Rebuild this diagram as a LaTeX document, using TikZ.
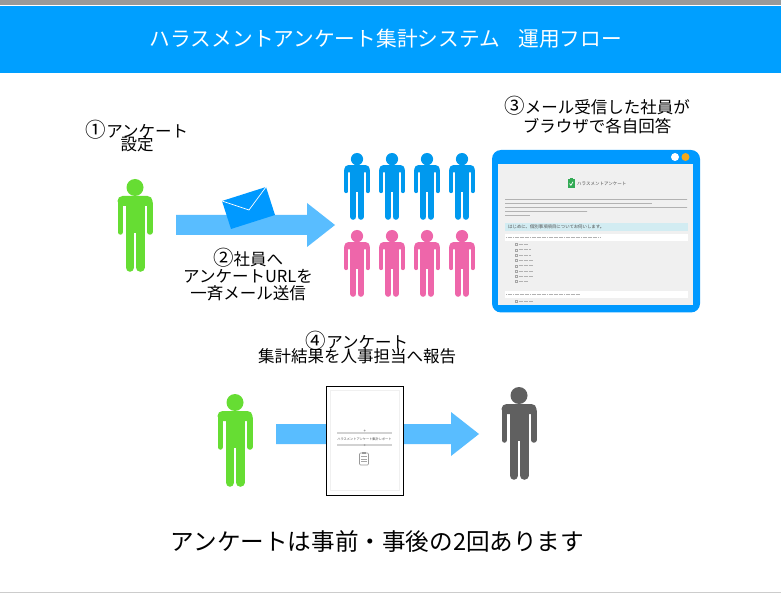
\documentclass[tikz,border=0pt]{standalone}
\usepackage{fontspec}
\setmainfont{Noto Sans CJK JP}
\definecolor{bandblue}{HTML}{009FFF}
\definecolor{winblue}{HTML}{0099FF}
\definecolor{arrowblue}{HTML}{59BDFF}
\definecolor{mangreen}{HTML}{66DD33}
\definecolor{manblue}{HTML}{0099EE}
\definecolor{manpink}{HTML}{EE66AA}
\definecolor{mangray}{HTML}{606060}
\definecolor{winorange}{HTML}{F5A81C}
\definecolor{pagegray}{HTML}{F0F0F0}
\definecolor{rowcyan}{HTML}{D2ECF2}
\definecolor{checkgreen}{HTML}{33AA55}
\newcommand{\bignum}[1]{{\fontsize{20.5}{12}\selectfont #1}}
\newcommand{\tightlines}{\lineskiplimit=-100pt\relax}
\tikzset{
  stepnote/.style={align=center, inner sep=0pt, font={\tightlines\fontsize{16.5}{#1}\selectfont}},
  smalltext/.style={inner sep=0pt, text=black!70, font=\fontsize{#1}{#1}\selectfont},
  textbar/.style={gray!60, line width=.9pt, dash pattern=on 1.6pt off .4pt},
  shotbar/.style={gray!60, line width=.7pt, dash pattern=on 1.3pt off .4pt}
}
% person: x, top y, scale, colour
\newcommand{\person}[4]{
  \begin{scope}[shift={(#1,#2)}, scale=#3]
    \fill[#4] (0,8.5) circle (8.5);
    \fill[#4, rounded corners=#3*5pt] (-17.5,27) -- (-17.5,17) -- (17.5,17) -- (17.5,27) -- cycle;
    \fill[#4] (-9.5,20) rectangle (9.5,54);
    \draw[#4, line width=#3*5.5pt, line cap=round] (-14.75,24) -- (-14.75,53);
    \draw[#4, line width=#3*8.6pt, line cap=round] (-5.2,45) -- (-5.2,88.5);
    \draw[#4, line width=#3*8.6pt, line cap=round] (5.2,45) -- (5.2,88.5);
    \draw[#4, line width=#3*5.5pt, line cap=round] (14.75,24) -- (14.75,53);
    \fill[white] (-.9,56) rectangle (.9,94);
  \end{scope}
}
% block arrow: left x, centre y, neck x, tip x
\newcommand{\blockarrow}[4]{
  \fill[arrowblue] (#1,#2-10) -- (#3,#2-10) -- (#3,#2-22) -- (#4,#2)
    -- (#3,#2+22) -- (#3,#2+10) -- (#1,#2+10) -- cycle;
}
\begin{document}
\begin{tikzpicture}[x=1pt, y=-1pt]
  \useasboundingbox (0,0) rectangle (781,593);
  \fill[white] (0,0) rectangle (781,593);

  % header band
  \fill[gray!80] (0,0) rectangle (781,5.5);
  \fill[bandblue] (0,6) rectangle (781,73);
  \fill[gray!40] (0,591.5) rectangle (781,593);
  \node[text=white, inner sep=0pt, font=\fontsize{20.7}{24}\selectfont] (title) at (386,38.5)
    {ハラスメントアンケート集計システム\hspace{.9em}運用フロー};

  % step 1 and 2
  \node[stepnote=12.5] (stepone) at (137,136) {\bignum{①}アンケート\\設定};
  \person{135}{179}{1}{mangreen}
  \blockarrow{176}{225}{307}{335}
  \coordinate (envA) at (222,201);
  \coordinate (envB) at (266,187);
  \coordinate (envC) at (275,215);
  \coordinate (envD) at (231,229);
  \coordinate (envE) at (249,210);
  \fill[winblue] (envA) -- (envB) -- (envC) -- (envD) -- cycle;
  \draw[white, line width=.7pt] (envA) -- (envE) -- (envB);
  \node[stepnote=17] (steptwo) at (248,275) {\bignum{②}社員へ\\アンケートURLを\\一斉メール送信};

  % staff
  \foreach \px in {357,392,427,462} {
    \person{\px}{153}{.72}{manblue}
    \person{\px}{230}{.72}{manpink}
  }

  % step 3, browser window
  \node[stepnote=19] (stepthree) at (597,115) {\bignum{③}メール受信した社員が\\ブラウザで各自回答};
  \fill[winblue, rounded corners=9pt] (492,150) rectangle (700,312.5);
  \fill[pagegray] (498,164) rectangle (693,305);
  \fill[white] (675,157) circle (4);
  \fill[winorange] (685.5,157) circle (4);
  \fill[checkgreen] (568,179) rectangle (574.5,188.5);
  \fill[checkgreen] (569.7,177.8) rectangle (572.8,180);
  \draw[white, line width=.7pt] (569.5,183.5) -- (570.9,185.3) -- (573,181.8);
  \node[smalltext=4.5, anchor=west] (shottitle) at (577,183.5) {ハラスメントアンケート};
  \draw[textbar] (505,199) -- (687,199);
  \draw[textbar] (505,203) -- (652,203);
  \draw[textbar] (505,207) -- (687,207);
  \draw[textbar] (505,211) -- (587,211);
  \draw[textbar] (505,215) -- (530,215);
  \fill[rowcyan] (505,223) rectangle (688,231);
  \node[smalltext=4.4, anchor=west] (shotintro) at (508,226.5) {はじめに、個別事項項目についてお伺いします。};
  \fill[white] (505,234) rectangle (688,241);
  \draw[shotbar] (506,237.5) -- (600,237.5);
  \foreach \oy/\ow in {244.5/10,249.8/12,255.1/12,260.4/15,265.7/15,271/15,276.3/15,281.6/10} {
    \draw[gray!70, line width=.3pt] (515,\oy-1) rectangle (517,\oy+1);
    \draw[shotbar] (518.5,\oy) -- ++(\ow,0);
  }
  \fill[white] (505,291) rectangle (688,298);
  \draw[shotbar] (506,294.5) -- (580,294.5);
  \draw[gray!70, line width=.3pt] (515,300.5) rectangle (517,302.5);
  \draw[shotbar] (518.5,301.5) -- ++(14,0);

  % step 4
  \node[stepnote=14] (stepfour) at (357,347.5) {\bignum{④}アンケート\\集計結果を人事担当へ報告};
  \person{235}{394}{1}{mangreen}
  \blockarrow{276}{434}{451}{479}
  \person{519}{387}{1}{mangray}
  \draw[black, fill=white, line width=.8pt] (326,386) rectangle (403,495);
  \draw[gray!12, line width=.8pt] (330,390.5) rectangle (399,490.5);
  \fill[gray!35] (337,432) rectangle (392,434);
  \fill[gray!35] (337,444) rectangle (392,446);
  \fill[gray!70] (364.5,430.5) circle (1);
  \fill[gray!70] (364.5,445) circle (1);
  \node[smalltext=3.2] (reporttitle) at (364.5,439) {ハラスメントアンケート集計レポート};
  \draw[gray!80, line width=.6pt, rounded corners=1pt] (359.5,453) rectangle (368.5,465);
  \fill[gray!80] (362,451.5) rectangle (366,454);
  \foreach \ly in {456.5,459,461.5} {
    \draw[gray!70, line width=.4pt] (361,\ly) -- (367,\ly);
  }

  % closing line
  \node[inner sep=0pt, font=\fontsize{23.6}{28}\selectfont] (closing) at (377.5,542)
    {アンケートは事前・事後の2回あります};
\end{tikzpicture}
\end{document}
